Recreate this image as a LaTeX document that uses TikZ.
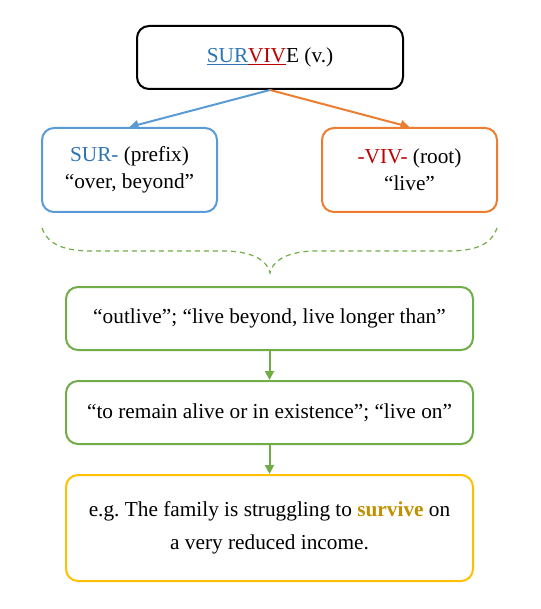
\documentclass[tikz,border=0pt]{standalone}
\usepackage{fontspec}
\setmainfont{Liberation Serif}
\usetikzlibrary{arrows.meta}
\definecolor{surblue}{HTML}{2E75B6}
\definecolor{boxblue}{HTML}{5B9BD5}
\definecolor{vivred}{HTML}{C00000}
\definecolor{boxorange}{HTML}{ED7D31}
\definecolor{boxgreen}{HTML}{70AD47}
\definecolor{boxyellow}{HTML}{FFC000}
\definecolor{survgold}{HTML}{BF9000}
\begin{document}
\begin{tikzpicture}[x=1pt, y=-1pt,
  wbox/.style={draw, rounded corners=12pt, line width=2pt, align=center, inner sep=0pt,
    font=\fontsize{21.3}{27}\selectfont},
  arr/.style={line width=2pt, -{Triangle[length=9pt,width=9pt]}}]
\useasboundingbox (0,0) rectangle (540,609);
\node[wbox, black, minimum width=266, minimum height=63] (bx0) at (270,57.5)
  {\textcolor{surblue}{\underline{SUR}}\textcolor{vivred}{\underline{VIV}}E (v.)};
\node[wbox, boxblue, minimum width=175, minimum height=84] (bx1) at (129.5,170)
  {\textcolor{surblue}{SUR-} \textcolor{black}{(prefix)}\\\textcolor{black}{“over, beyond”}};
\node[wbox, boxorange, minimum width=175, minimum height=84] (bx2) at (409.5,170)
  {\textcolor{vivred}{-VIV-} \textcolor{black}{(root)}\\\textcolor{black}{“live”}};
\draw[arr, boxblue](bx0.south) -- (bx1.north);
\draw[arr, boxorange](bx0.south) -- (bx2.north);
\draw[boxgreen, line width=1.2pt, dash pattern=on 5pt off 4pt]
  (42,228) .. controls (48,245) and (65,251) .. (92,251) -- (227,251)
  .. controls (255,252) and (268,262) .. (270,273)
  .. controls (272,262) and (285,252) .. (313,251) -- (448,251)
  .. controls (475,251) and (491,245) .. (497,228);
\node[wbox, boxgreen, text=black, minimum width=407, minimum height=63] (bx3) at (269.5,318.5)
  {“outlive”; “live beyond, live longer than”};
\node[wbox, boxgreen, text=black, minimum width=407, minimum height=63] (bx4) at (269.5,412.5)
  {“to remain alive or in existence”; “live on”};
\node[wbox, boxyellow, text=black, minimum width=407, minimum height=106,
  font=\fontsize{21.3}{33}\selectfont] (bx5) at (269.5,528)
  {e.g.\ The family is struggling to \textbf{\textcolor{survgold}{survive}} on\\a very reduced income.};
\draw[arr, boxgreen](bx3) -- (bx4);
\draw[arr, boxgreen](bx4) -- (bx5);
\end{tikzpicture}
\end{document}
